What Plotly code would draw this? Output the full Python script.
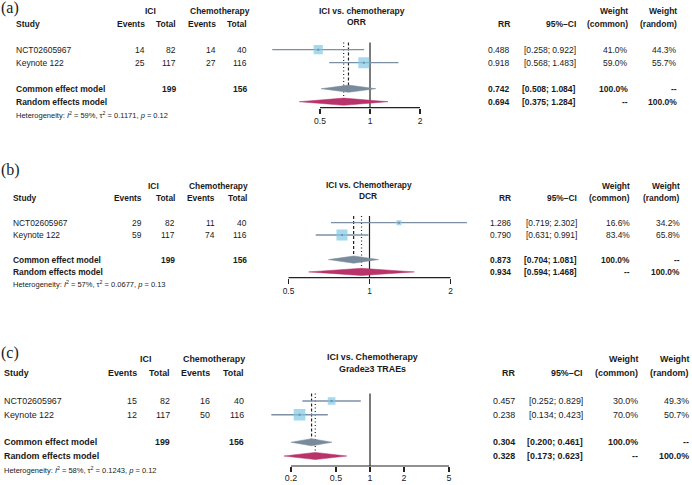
import math
import plotly.graph_objects as go

W, H = 692, 485
SANS = "Liberation Sans, Arial, Helvetica, sans-serif"
SERIF = "Liberation Serif, Times New Roman, serif"

# ---------------- data ----------------
studies = ["NCT02605967", "Keynote 122"]

# (a) ORR
a_ici_events = [14, 25]
a_ici_total = [82, 117]
a_chemo_events = [14, 27]
a_chemo_total = [40, 116]
a_rr = [0.488, 0.918]
a_ci_low = [0.258, 0.568]
a_ci_high = [0.922, 1.483]
a_w_common = [41.0, 59.0]
a_w_random = [44.3, 55.7]
a_common = [0.742, 0.508, 1.084]
a_random = [0.694, 0.375, 1.284]
a_het = ["59%", "0.1171", "0.12"]
a_ticks = [0.5, 1, 2]
a_title = ["ICI vs. chemotherapy", "ORR"]

# (b) DCR
b_ici_events = [29, 59]
b_ici_total = [82, 117]
b_chemo_events = [11, 74]
b_chemo_total = [40, 116]
b_rr = [1.286, 0.790]
b_ci_low = [0.719, 0.631]
b_ci_high = [2.302, 0.991]
b_w_common = [16.6, 83.4]
b_w_random = [34.2, 65.8]
b_common = [0.873, 0.704, 1.081]
b_random = [0.934, 0.594, 1.468]
b_het = ["57%", "0.0677", "0.13"]
b_ticks = [0.5, 1, 2]
b_title = ["ICI vs. Chemotherapy", "DCR"]

# (c) Grade>=3 TRAEs
c_ici_events = [15, 12]
c_ici_total = [82, 117]
c_chemo_events = [16, 50]
c_chemo_total = [40, 116]
c_rr = [0.457, 0.238]
c_ci_low = [0.252, 0.134]
c_ci_high = [0.829, 0.423]
c_w_common = [30.0, 70.0]
c_w_random = [49.3, 50.7]
c_common = [0.304, 0.200, 0.461]
c_random = [0.328, 0.173, 0.623]
c_het = ["58%", "0.1243", "0.12"]
c_ticks = [0.2, 0.5, 1, 2, 5]
c_title = ["ICI vs. Chemotherapy", "Grade\u22653 TRAEs"]

datasets = [
    dict(label="(a)", ie=a_ici_events, it=a_ici_total, ce=a_chemo_events, ct=a_chemo_total,
         rr=a_rr, lo=a_ci_low, hi=a_ci_high, wc=a_w_common, wr=a_w_random,
         common=a_common, random=a_random, het=a_het, ticks=a_ticks, title=a_title),
    dict(label="(b)", ie=b_ici_events, it=b_ici_total, ce=b_chemo_events, ct=b_chemo_total,
         rr=b_rr, lo=b_ci_low, hi=b_ci_high, wc=b_w_common, wr=b_w_random,
         common=b_common, random=b_random, het=b_het, ticks=b_ticks, title=b_title),
    dict(label="(c)", ie=c_ici_events, it=c_ici_total, ce=c_chemo_events, ct=c_chemo_total,
         rr=c_rr, lo=c_ci_low, hi=c_ci_high, wc=c_w_common, wr=c_w_random,
         common=c_common, random=c_random, het=c_het, ticks=c_ticks, title=c_title),
]

# ---------------- layout geometry (pixels) ----------------
geoms = [
    dict(label_y=8, t1=(362, 11), t2=(356, 21.7), hdr1=11, hdr2=24, row0=49.7, pitch=13.0,
         axis=107.7, het=115, fs=8.5, smax=11.0, standoff=0,
         study=15, ie=145.7, it=176.7, ce=216.7, ct=248.3, ici_c=150.7, chemo_c=220,
         rr=510.7, ci=576.7, wc=629.3, wr=678.3, one=370, ppd=166.1, dom=(262, 445)),
    dict(label_y=170, t1=(369, 185), t2=(368, 196), hdr1=186, hdr2=198.3, row0=222.7, pitch=12.3,
         axis=277.7, het=284.3, fs=8.4, smax=11.0, standoff=0,
         study=12, ie=143.3, it=175.7, ce=215.7, ct=247.7, ici_c=153.3, chemo_c=218.3,
         rr=511.7, ci=578.3, wc=631, wr=680.7, one=369.5, ppd=269.0, dom=(280, 482)),
    dict(label_y=353, t1=(372.5, 356.7), t2=(372, 369), hdr1=359.3, hdr2=373.3, row0=401, pitch=13.75,
         axis=466, het=470, fs=8.9, smax=11.7, standoff=-2,
         study=3.3, ie=137.7, it=171, ce=211, ct=245, ici_c=145.7, chemo_c=214.3,
         rr=516, ci=584.3, wc=639, wr=690, one=370, ppd=113.0, dom=(262, 456)),
]

CI_COL = "#7d8fa3"
SQ_COL = "#80c9e6"
COMMON_COL = "#788a9c"
RANDOM_COL = "#b8336a"
TXT = "#1a1a1a"


def px2x(px):
    return px / W


def px2y(px):
    return 1 - px / H


fig = go.Figure()
annotations = []
shapes = []


def txt(x, y, s, anchor="right", size=8.5, bold=False, family=SANS):
    if bold:
        s = f"<b>{s}</b>"
    annotations.append(dict(x=px2x(x), y=px2y(y), xref="paper", yref="paper", text=s,
                            showarrow=False, xanchor=anchor, yanchor="middle",
                            borderpad=0, font=dict(size=size, family=family, color=TXT)))


layout_axes = {}
for i, (D, G) in enumerate(zip(datasets, geoms)):
    sfx = "" if i == 0 else str(i + 1)
    xname, yname = "x" + sfx, "y" + sfx
    n = len(studies)
    rows = list(range(n))
    common_row = n + 1
    random_row = n + 2
    ybot = (G["axis"] - G["row0"]) / G["pitch"]
    ytop = -1.3
    top_px = G["row0"] + ytop * G["pitch"]
    hh = 3.6 / G["pitch"]
    line_top = -0.55

    L, R = G["dom"]
    xr = [(L - G["one"]) / G["ppd"], (R - G["one"]) / G["ppd"]]

    layout_axes["xaxis" + sfx] = dict(
        type="log", range=xr, domain=[px2x(L), px2x(R)], anchor=yname,
        showline=False, showgrid=False, zeroline=False, ticks="outside", ticklen=5,
        tickwidth=1.2, tickcolor="#222", tickvals=D["ticks"],
        ticktext=[f"{t:g}" for t in D["ticks"]], ticklabelstandoff=G["standoff"],
        tickfont=dict(size=G["fs"], family=SANS, color=TXT), fixedrange=True)
    layout_axes["yaxis" + sfx] = dict(
        range=[ybot, ytop], domain=[px2y(G["axis"]), px2y(top_px)], anchor=xname,
        visible=False, fixedrange=True)

    # axis line spanning the tick range
    shapes.append(dict(type="line", xref=xname, yref=yname + " domain",
                       x0=min(D["ticks"]), x1=max(D["ticks"]), y0=0, y1=0,
                       line=dict(color="#222", width=1.2)))

    # reference line at 1
    fig.add_trace(go.Scatter(x=[1, 1], y=[line_top, ybot], mode="lines",
                             line=dict(color="#222", width=1.2),
                             xaxis=xname, yaxis=yname, hoverinfo="skip"))
    # common (dashed) and random (dotted) lines
    fig.add_trace(go.Scatter(x=[D["common"][0]] * 2, y=[line_top, common_row - hh], mode="lines",
                             line=dict(color="#222", width=1.2, dash="3px,2px"),
                             xaxis=xname, yaxis=yname, hoverinfo="skip"))
    fig.add_trace(go.Scatter(x=[D["random"][0]] * 2, y=[line_top, random_row - hh], mode="lines",
                             line=dict(color="#222", width=1.2, dash="1px,2.5px"),
                             xaxis=xname, yaxis=yname, hoverinfo="skip"))
    # CI lines
    cx, cy = [], []
    for r, lo, hi in zip(rows, D["lo"], D["hi"]):
        cx += [lo, hi, None]
        cy += [r, r, None]
    fig.add_trace(go.Scatter(x=cx, y=cy, mode="lines", line=dict(color=CI_COL, width=1.3),
                             xaxis=xname, yaxis=yname, hoverinfo="skip"))
    # squares
    wmax = max(D["wc"])
    sizes = [G["smax"] * math.sqrt(w / wmax) for w in D["wc"]]
    fig.add_trace(go.Scatter(x=D["rr"], y=rows, mode="markers",
                             marker=dict(symbol="square", size=sizes, color=SQ_COL,
                                         line=dict(width=0)),
                             xaxis=xname, yaxis=yname, hoverinfo="skip"))
    fig.add_trace(go.Scatter(x=D["rr"], y=rows, mode="markers",
                             marker=dict(symbol="square", size=2, color=CI_COL, line=dict(width=0)),
                             xaxis=xname, yaxis=yname, hoverinfo="skip"))
    # diamonds
    for (est, lo, hi), row, col in [(D["common"], common_row, COMMON_COL),
                                     (D["random"], random_row, RANDOM_COL)]:
        fig.add_trace(go.Scatter(x=[lo, est, hi, est, lo], y=[row, row - hh, row, row + hh, row],
                                 mode="lines", fill="toself", fillcolor=col,
                                 line=dict(color=col, width=0.5),
                                 xaxis=xname, yaxis=yname, hoverinfo="skip"))

    # ---------- text ----------
    fs = G["fs"]
    txt(0, G["label_y"], D["label"], anchor="left", size=16, family=SERIF)
    txt(G["t1"][0], G["t1"][1], D["title"][0], anchor="center", size=fs, bold=True)
    txt(G["t2"][0], G["t2"][1], D["title"][1], anchor="center", size=fs, bold=True)
    txt(G["ici_c"], G["hdr1"], "ICI", anchor="center", size=fs, bold=True)
    txt(G["chemo_c"], G["hdr1"], "Chemotherapy", anchor="center", size=fs, bold=True)
    txt(G["study"], G["hdr2"], "Study", anchor="left", size=fs, bold=True)
    txt(G["ie"], G["hdr2"], "Events", size=fs, bold=True)
    txt(G["it"], G["hdr2"], "Total", size=fs, bold=True)
    txt(G["ce"], G["hdr2"], "Events", size=fs, bold=True)
    txt(G["ct"], G["hdr2"], "Total", size=fs, bold=True)
    txt(G["rr"], G["hdr2"], "RR", size=fs, bold=True)
    txt(G["ci"], G["hdr2"], "95%\u2013CI", size=fs, bold=True)
    txt(G["wc"], G["hdr1"], "Weight", size=fs, bold=True)
    txt(G["wr"], G["hdr1"], "Weight", size=fs, bold=True)
    txt(G["wc"], G["hdr2"], "(common)", size=fs, bold=True)
    txt(G["wr"], G["hdr2"], "(random)", size=fs, bold=True)

    for k, s in enumerate(studies):
        y = G["row0"] + rows[k] * G["pitch"]
        txt(G["study"], y, s, anchor="left", size=fs)
        txt(G["ie"], y, str(D["ie"][k]), size=fs)
        txt(G["it"], y, str(D["it"][k]), size=fs)
        txt(G["ce"], y, str(D["ce"][k]), size=fs)
        txt(G["ct"], y, str(D["ct"][k]), size=fs)
        txt(G["rr"], y, f"{D['rr'][k]:.3f}", size=fs)
        txt(G["ci"], y, f"[{D['lo'][k]:.3f}; {D['hi'][k]:.3f}]", size=fs)
        txt(G["wc"], y, f"{D['wc'][k]:.1f}%", size=fs)
        txt(G["wr"], y, f"{D['wr'][k]:.1f}%", size=fs)

    yc = G["row0"] + common_row * G["pitch"]
    yr = G["row0"] + random_row * G["pitch"]
    txt(G["study"], yc, "Common effect model", anchor="left", size=fs, bold=True)
    txt(G["it"], yc, str(sum(D["it"])), size=fs, bold=True)
    txt(G["ct"], yc, str(sum(D["ct"])), size=fs, bold=True)
    est, lo, hi = D["common"]
    txt(G["rr"], yc, f"{est:.3f}", size=fs, bold=True)
    txt(G["ci"], yc, f"[{lo:.3f}; {hi:.3f}]", size=fs, bold=True)
    txt(G["wc"], yc, "100.0%", size=fs, bold=True)
    txt(G["wr"], yc, "--", size=fs, bold=True)
    txt(G["study"], yr, "Random effects model", anchor="left", size=fs, bold=True)
    est, lo, hi = D["random"]
    txt(G["rr"], yr, f"{est:.3f}", size=fs, bold=True)
    txt(G["ci"], yr, f"[{lo:.3f}; {hi:.3f}]", size=fs, bold=True)
    txt(G["wc"], yr, "--", size=fs, bold=True)
    txt(G["wr"], yr, "100.0%", size=fs, bold=True)
    i2, tau2, p = D["het"]
    txt(G["study"], G["het"],
        f"Heterogeneity: <i>I</i><sup>2</sup> = {i2}, \u03c4<sup>2</sup> = {tau2}, <i>p</i> = {p}",
        anchor="left", size=7.5)

fig.update_layout(
    width=W, height=H, margin=dict(l=0, r=0, t=0, b=0),
    paper_bgcolor="white", plot_bgcolor="rgba(0,0,0,0)", showlegend=False,
    annotations=annotations, shapes=shapes, **layout_axes)

fig.write_html("out.html", config={"displayModeBar": False, "staticPlot": True},
               post_script="document.body.style.margin='0';document.body.style.overflow='hidden';")
